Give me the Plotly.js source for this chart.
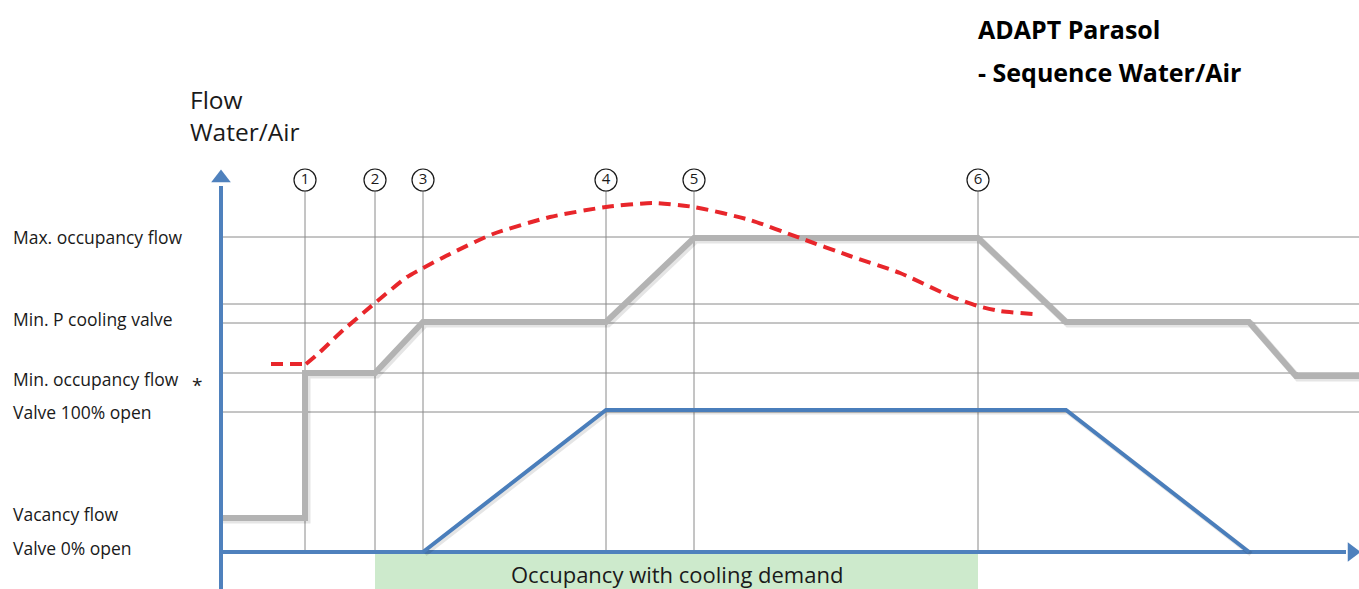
<!DOCTYPE html>
<html>
<head>
<meta charset="utf-8">
<script src="https://cdn.plot.ly/plotly-3.0.1.min.js"></script>
<style>html,body{margin:0;padding:0;background:#fff;}#chart{width:1359px;height:589px;}</style>
</head>
<body>
<div id="chart"></div>
<script>
// ---- Data (schematic units: x = time position, y = flow level, screen-like scale) ----
const stepLabels = ['1', '2', '3', '4', '5', '6'];
const stepX = [305, 375, 423, 606, 694, 978];

const levelY = [237, 304, 323, 373, 412];
const labelY = [237, 319, 379, 412, 514, 548];
const labelText = ['Max. occupancy flow', 'Min. P cooling valve', 'Min. occupancy flow', 'Valve 100% open', 'Vacancy flow', 'Valve 0% open'];

const airX = [221, 305, 305, 375, 423, 606, 694, 978, 1066, 1249, 1296, 1359];
const airY = [518, 518, 373, 373, 322, 322, 238, 238, 322, 322, 376, 376];

const waterX = [423, 606, 1066, 1249];
const waterY = [552, 410, 410, 552];

const demandFlatX = [271, 306];
const demandFlatY = [364, 364];
const demandX = [306, 320, 340, 375, 407, 423, 450, 493, 550, 606, 653, 694, 750, 800, 850, 900, 950, 978, 1000, 1033];
const demandY = [364, 352, 333, 303, 277, 268, 254, 234, 217, 207, 203, 207, 220, 238, 256, 273, 296, 306, 311, 314];

const axisOriginX = 221, axisOriginY = 552, axisEndX = 1352, axisTopY = 178, axisBottomY = 589;
const gridRightX = 1359, stepTopY = 190;
const occupancyStart = 375, occupancyEnd = 978;

// ---- Build traces ----
const gx = [], gy = [];
levelY.forEach(y => { gx.push(axisOriginX, gridRightX, null); gy.push(y, y, null); });
stepX.forEach(x => { gx.push(x, x, null); gy.push(stepTopY, axisOriginY, null); });

const font = '"Open Sans", "Noto Sans", sans-serif';

const traces = [
  {x: [occupancyStart, occupancyEnd, occupancyEnd, occupancyStart, occupancyStart],
   y: [axisOriginY + 1, axisOriginY + 1, axisBottomY, axisBottomY, axisOriginY + 1],
   mode: 'lines', fill: 'toself', fillcolor: '#cdeacc', line: {width: 0}, hoverinfo: 'skip'},
  {x: gx, y: gy, mode: 'lines', line: {color: '#8a8a8a', width: 1}, hoverinfo: 'skip'},
  {x: airX.map(v => v + 2), y: airY.map(v => v + 2), mode: 'lines', line: {color: 'rgba(0,0,0,0.10)', width: 7}, hoverinfo: 'skip'},
  {x: airX, y: airY, mode: 'lines', line: {color: '#b3b3b3', width: 6}, hoverinfo: 'skip'},
  {x: [axisOriginX, axisOriginX], y: [axisBottomY, axisTopY + 8], mode: 'lines', line: {color: '#4f81bd', width: 4}, hoverinfo: 'skip'},
  {x: [axisOriginX, axisEndX - 6], y: [axisOriginY, axisOriginY], mode: 'lines', line: {color: '#4f81bd', width: 4}, hoverinfo: 'skip'},
  {x: [axisOriginX], y: [axisTopY], mode: 'markers', marker: {symbol: 'triangle-up', size: 17, color: '#4f81bd'}, hoverinfo: 'skip'},
  {x: [axisEndX], y: [axisOriginY], mode: 'markers', marker: {symbol: 'triangle-right', size: 17, color: '#4f81bd'}, hoverinfo: 'skip'},
  {x: waterX.map(v => v + 2), y: waterY.map(v => v + 2), mode: 'lines', line: {color: 'rgba(0,0,0,0.10)', width: 5}, hoverinfo: 'skip'},
  {x: waterX, y: waterY, mode: 'lines', line: {color: '#4a7ebb', width: 4}, hoverinfo: 'skip'},
  {x: demandFlatX, y: demandFlatY, mode: 'lines', line: {color: '#e8262b', width: 4, dash: '12px,7px'}, hoverinfo: 'skip'},
  {x: demandX, y: demandY, mode: 'lines', line: {color: '#e8262b', width: 4, dash: '12px,7px', shape: 'spline', smoothing: 0.6}, hoverinfo: 'skip'},
  {x: stepX, y: stepX.map(() => 180), mode: 'markers+text', text: stepLabels, textposition: 'middle center',
   textfont: {family: font, size: 15, color: '#1a1a1a'},
   marker: {symbol: 'circle', size: 22, color: '#ffffff', line: {color: '#1a1a1a', width: 1.2}}, hoverinfo: 'skip'}
];

const annotations = [];
labelText.forEach((t, i) => annotations.push({x: 11, y: labelY[i], xref: 'x', yref: 'y', text: t, showarrow: false,
  xanchor: 'left', yanchor: 'middle', font: {family: font, size: 17.5, color: '#1a1a1a'}}));
annotations.push({x: 197, y: 385, text: '*', showarrow: false, xanchor: 'center', yanchor: 'middle', font: {family: font, size: 19, color: '#1a1a1a'}});
annotations.push({x: 188, y: 99, text: 'Flow', showarrow: false, xanchor: 'left', yanchor: 'middle', font: {family: font, size: 24.5, color: '#1a1a1a'}});
annotations.push({x: 188, y: 131, text: 'Water/Air', showarrow: false, xanchor: 'left', yanchor: 'middle', font: {family: font, size: 24.5, color: '#1a1a1a'}});
annotations.push({x: 976, y: 29, text: '<b>ADAPT Parasol</b>', showarrow: false, xanchor: 'left', yanchor: 'middle', font: {family: font, size: 25, color: '#000'}});
annotations.push({x: 976, y: 72, text: '<b>- Sequence Water/Air</b>', showarrow: false, xanchor: 'left', yanchor: 'middle', font: {family: font, size: 25, color: '#000'}});
annotations.push({x: (occupancyStart + occupancyEnd) / 2, y: 574, text: 'Occupancy with cooling demand', showarrow: false, xanchor: 'center', yanchor: 'middle', font: {family: font, size: 22, color: '#1a1a1a'}});

const layout = {
  width: 1359, height: 589,
  margin: {l: 0, r: 0, t: 0, b: 0},
  paper_bgcolor: '#ffffff', plot_bgcolor: '#ffffff',
  showlegend: false,
  xaxis: {range: [0, 1359], visible: false, fixedrange: true},
  yaxis: {range: [589, 0], visible: false, fixedrange: true},
  annotations: annotations
};

Plotly.newPlot('chart', traces, layout, {staticPlot: true, displayModeBar: false});
</script>
</body>
</html>
